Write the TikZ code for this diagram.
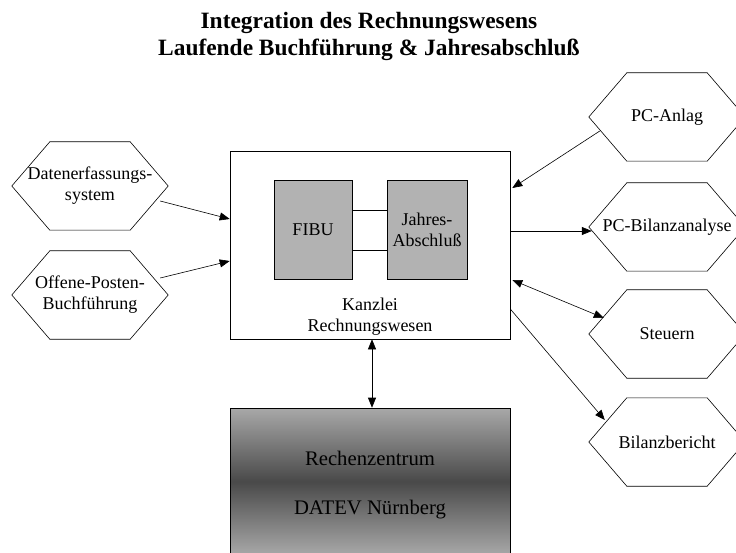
\documentclass[tikz,border=0pt]{standalone}
\usepackage{fontspec}
\setmainfont{Liberation Serif}
\usetikzlibrary{arrows.meta,calc}
\begin{document}
\begin{tikzpicture}[x=1pt,y=-1pt,
  body/.style={font=\fontsize{18}{21}\selectfont, align=center},
  bigbody/.style={font=\fontsize{20.7}{24}\selectfont, align=center},
  hexa/.style={body, minimum width=156pt, minimum height=88pt, inner sep=0pt},
  graybox/.style={body, draw, fill=black!30, inner sep=0pt},
  conn/.style={line width=0.6pt, -{Triangle[length=10pt,width=8pt]}},
  biconn/.style={line width=0.6pt, {Triangle[length=10pt,width=8pt]}-{Triangle[length=10pt,width=8pt]}},
  plain/.style={line width=0.6pt}]
\useasboundingbox[fill=white] (0,0) rectangle (736,553);

\node[font=\fontsize{23.4}{27}\selectfont\bfseries, align=center] (title) at (369,36)
  {Integration des Rechnungswesens\\Laufende Buchführung \& Jahresabschluß};

% main box
\node[draw, line width=0.6pt, minimum width=280pt, minimum height=188pt, inner sep=0pt] (main) at (370,245) {};
\node[graybox, minimum width=78pt, minimum height=99pt] (fibu) at (313,229.5) {FIBU};
\node[graybox, minimum width=80pt, minimum height=99pt] (jahr) at (427,229.5) {Jahres-\\Abschluß};
\node[body] (kanz) at (370,317) {Kanzlei\\Rechnungswesen};

% bottom box with vertical gradient (light - dark - light)
\foreach \i in {0,...,73} {
  \pgfmathsetmacro\p{34+37*\i/73}
  \fill[black!\p] (230,408+\i) rectangle (510,409.8+\i);
  \fill[black!\p] (230,556-\i) rectangle (510,554.2-\i);
}
\node[draw, line width=0.6pt, minimum width=280pt, minimum height=148pt, inner sep=0pt] (datev) at (370,482) {};
\node[bigbody] (rz) at (370,458) {Rechenzentrum};
\node[bigbody] (dn) at (370,510) {DATEV Nürnberg};

% hexagons
\node[hexa] (dat) at (90,186) {Datenerfassungs-\\system};
\node[hexa] (op) at (90,295) {Offene-Posten-\\Buchführung};
\node[hexa] (pca) at (667,117) {PC-Anlag};
\node[hexa] (pcb) at (667,227) {PC-Bilanzanalyse};
\node[hexa] (st) at (667,334) {Steuern};
\node[hexa] (bb) at (667,442) {Bilanzbericht};
\foreach \n in {dat,op,pca,pcb,st,bb}
  \draw[plain] ([xshift=38pt]\n.north west) -- ([xshift=-38pt]\n.north east) -- (\n.east)
    -- ([xshift=-38pt]\n.south east) -- ([xshift=38pt]\n.south west) -- (\n.west) -- cycle;

% inner connections
\draw[plain] ([yshift=19.5pt]fibu.east) -- ([yshift=19.5pt]jahr.west);
\draw[plain] ([yshift=-20.5pt]fibu.east) -- ([yshift=-20.5pt]jahr.west);

% connectors
\draw[conn] ([xshift=-8pt,yshift=-15pt]dat.east) -- ([yshift=26pt]main.west);
\draw[conn] ([xshift=-8pt,yshift=17pt]op.east) -- ([yshift=-16pt]main.west);
\draw[conn] ([xshift=11pt,yshift=-14pt]pca.west) -- ([xshift=2pt,yshift=57pt]main.east);
\draw[conn] ([yshift=14pt]main.east) -- ([xshift=3pt,yshift=-4pt]pcb.west);
\draw[biconn] ([xshift=2pt,yshift=-35pt]main.east) -- ([xshift=15pt,yshift=16pt]st.west);
\draw[conn] ([yshift=-64pt]main.east) -- ([xshift=16pt,yshift=22pt]bb.west);
\draw[biconn] ([xshift=2pt]main.south) -- ([xshift=2pt]datev.north);
\end{tikzpicture}
\end{document}
